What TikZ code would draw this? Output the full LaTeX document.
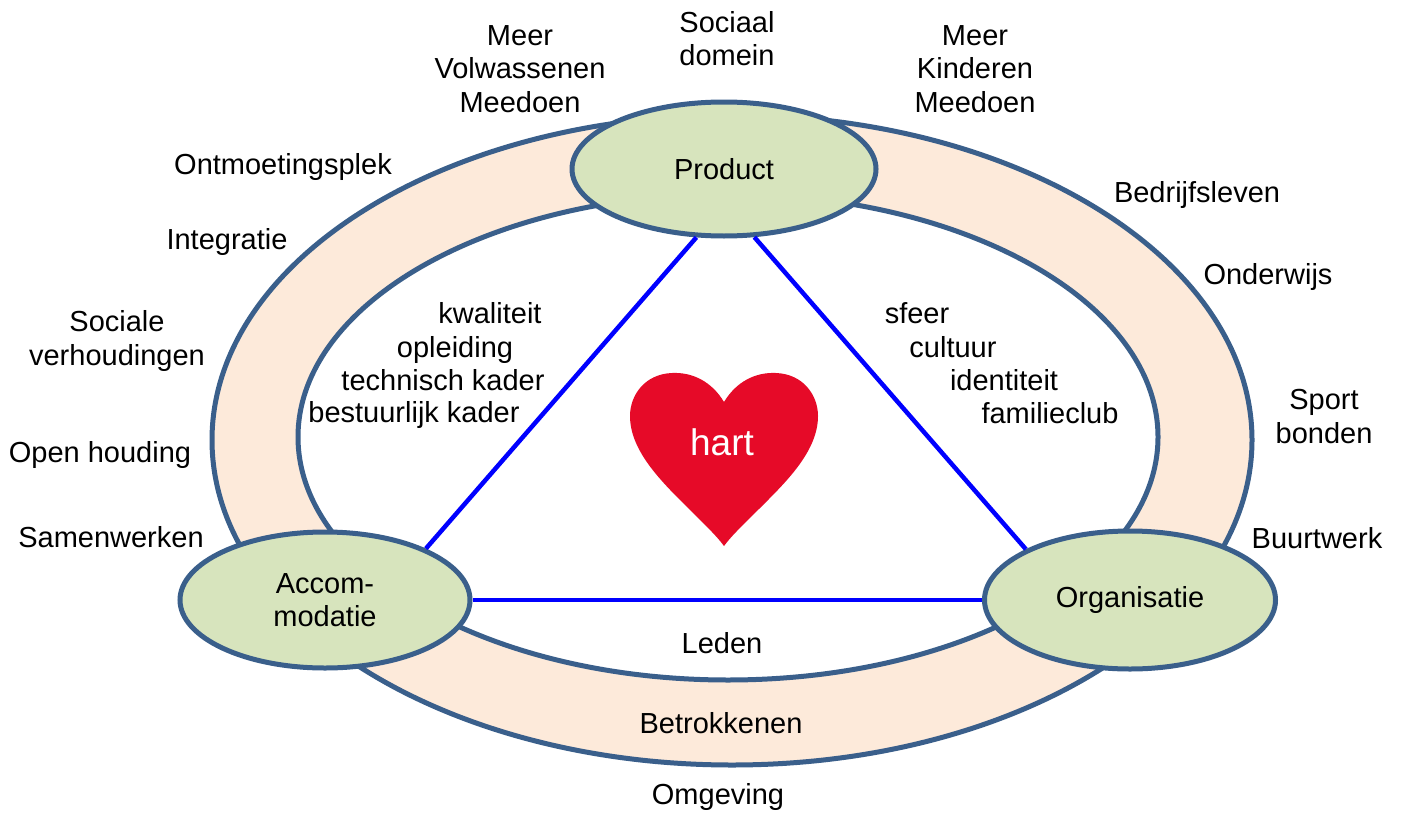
\documentclass[tikz,border=0pt]{standalone}
\usepackage{fontspec}
\setmainfont{Liberation Sans}
\usetikzlibrary{shapes.geometric}
\definecolor{edgeblue}{HTML}{3A5F8B}
\definecolor{ringfill}{HTML}{FDEADA}
\definecolor{hubgreen}{HTML}{D7E4BD}
\definecolor{heartred}{HTML}{E60A28}
\definecolor{linkblue}{HTML}{0000FF}
\tikzset{
  lbl/.style={font=\fontsize{29}{33.5}\selectfont, align=center, inner sep=0pt, anchor=base},
  hub/.style={ellipse, draw=edgeblue, line width=5pt, fill=hubgreen, inner sep=0pt,
              font=\fontsize{29}{33.5}\selectfont, align=center},
  link/.style={draw=linkblue, line width=4.5pt},
  ringline/.style={draw=edgeblue, line width=5pt}
}
\begin{document}
\begin{tikzpicture}[x=1pt,y=-1pt]
\useasboundingbox (0,0) rectangle (1402,816);
\fill[white] (0,0) rectangle (1402,816);
% ring
\draw[ringline, fill=ringfill] (732,440) ellipse [x radius=520, y radius=325];
\draw[ringline, fill=white] (728,437) ellipse [x radius=430, y radius=243];
% hubs
\node[hub, minimum width=304pt, minimum height=134pt] (P) at (724,169) {Product};
\node[hub, minimum width=290pt, minimum height=136pt] (A) at (325,600) {Accom-\\modatie};
\node[hub, minimum width=291pt, minimum height=138pt] (O) at (1130,600) {Organisatie};
% links
\draw[link] (P.248) -- (A.27);
\draw[link] (P.294) -- (O.154);
\draw[link] (A.east) -- (O.west);
% heart
\fill[heartred] (724,402) .. controls (712,382) and (693,372) .. (672,373)
  .. controls (645,374) and (630,395) .. (630,416)
  .. controls (630,450) and (660,480) .. (685,505)
  .. controls (703,523) and (716,535) .. (724,546)
  .. controls (732,535) and (745,523) .. (763,505)
  .. controls (788,480) and (818,450) .. (818,416)
  .. controls (818,395) and (803,374) .. (776,373)
  .. controls (755,372) and (736,382) .. (724,402) -- cycle;
\node[lbl, text=white, font=\fontsize{37}{40}\selectfont] (hart) at (722,455) {hart};
% top labels (base = last line)
\node[lbl] (vol) at (520,112) {Meer\\Volwassenen\\Meedoen};
\node[lbl] (soc) at (727,66) {Sociaal\\domein};
\node[lbl] (kin) at (975,112) {Meer\\Kinderen\\Meedoen};
% left labels
\node[lbl] (ont) at (283,174) {Ontmoetingsplek};
\node[lbl] (int) at (227,249) {Integratie};
\node[lbl] (sv) at (117,365) {Sociale\\verhoudingen};
\node[lbl] (oh) at (100,462) {Open houding};
\node[lbl] (sw) at (111,547) {Samenwerken};
% right labels
\node[lbl] (bed) at (1197,202) {Bedrijfsleven};
\node[lbl] (ond) at (1268,284) {Onderwijs};
\node[lbl] (spb) at (1324,443) {Sport\\bonden};
\node[lbl] (bw) at (1317,548) {Buurtwerk};
% inner labels left
\node[lbl] (kw) at (490,323) {kwaliteit};
\node[lbl] (opl) at (455,357) {opleiding};
\node[lbl] (tk) at (443,390) {technisch kader};
\node[lbl] (bk) at (414,422) {bestuurlijk kader};
% inner labels right
\node[lbl] (sf) at (917,323) {sfeer};
\node[lbl] (cu) at (953,357) {cultuur};
\node[lbl] (id) at (1004,390) {identiteit};
\node[lbl] (fc) at (1050,423) {familieclub};
% bottom labels
\node[lbl] (led) at (722,653) {Leden};
\node[lbl] (bet) at (721,733) {Betrokkenen};
\node[lbl] (omg) at (718,804) {Omgeving};
\end{tikzpicture}
\end{document}
